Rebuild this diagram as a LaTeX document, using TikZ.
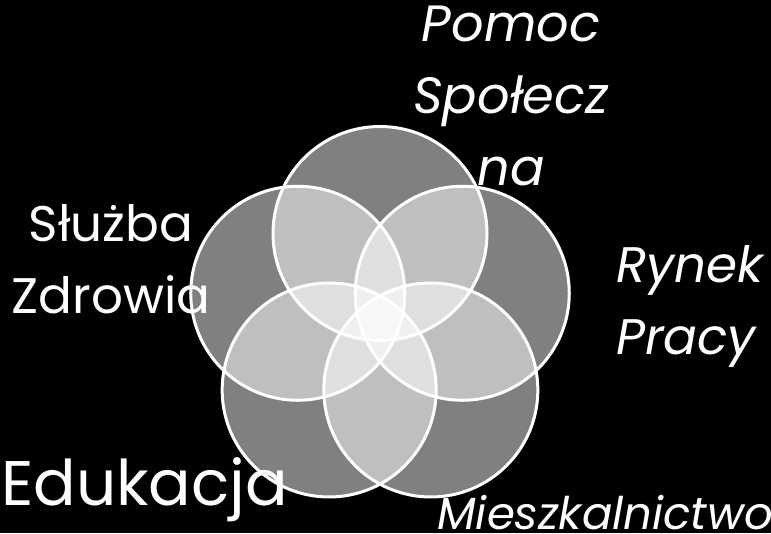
\documentclass[tikz,border=0pt]{standalone}
\usepackage{fontspec}
\setmainfont{Poppins}
\usepackage{tikz}

\begin{document}
\begin{tikzpicture}[x=1pt,y=1pt,
    ring/.style={circle,draw=white,line width=3pt,fill=white,fill opacity=0.5,
      draw opacity=1,minimum size=214pt,inner sep=0pt},
    label text/.style={text=white,inner sep=0pt}]
    \fill[black] (0,0) rectangle (771,-533);
    \useasboundingbox (0,0) rectangle (771,-533);
    \begin{scope}[shift={(380,-320)}]
      \foreach \ang/\nm in {90/pomoc,162/zdrowie,18/rynek,234/edukacja,306/mieszkanie}
        \node[ring] (\nm) at (\ang:86.5) {};
    \end{scope}
    \node[label text,anchor=north,align=center,font=\fontsize{51}{72}\selectfont\itshape]
      (pomocLbl) at (511,-6) {Pomoc\\Społecz\\na};
    \node[label text,anchor=north,align=center,font=\fontsize{50}{72}\selectfont]
      (zdrowieLbl) at (111,-204) {Służba\\Zdrowia};
    \node[label text,anchor=north west,align=left,font=\fontsize{50}{72}\selectfont\itshape]
      (rynekLbl) at (616,-245) {Rynek\\Pracy};
    \node[label text,anchor=base west,font=\fontsize{63}{72}\selectfont]
      (edukacjaLbl) at (1,-505) {Edukacja};
    \node[label text,anchor=base west,font=\fontsize{45}{50}\selectfont\itshape]
      (mieszkanieLbl) at (437,-529) {Mieszkalnictwo};
\end{tikzpicture}
\end{document}
